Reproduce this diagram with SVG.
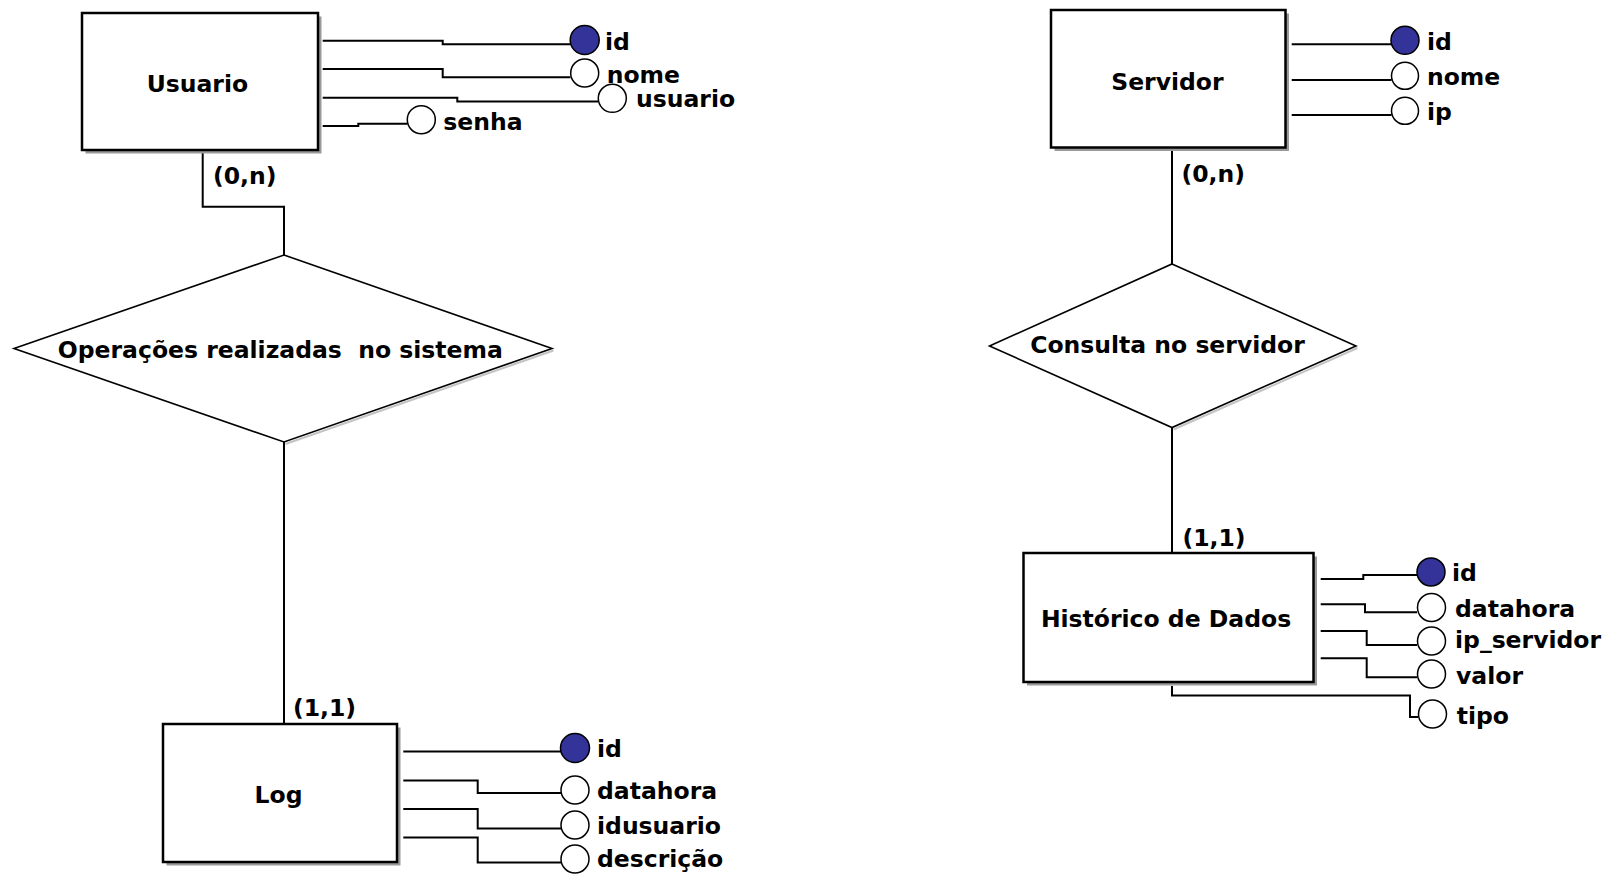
<svg xmlns="http://www.w3.org/2000/svg" width="1612" height="874" viewBox="0 0 1612 874">
<style>
  .ent { fill: #ffffff; stroke: #000000; stroke-width: 2.5; }
  .shadow { fill: #9a9a9a; }
  .rel { fill: #ffffff; stroke: #000000; stroke-width: 1.6; }
  .rshadow { fill: none; stroke: #c4c4c4; stroke-width: 2; }
  .ln { fill: none; stroke: #000000; stroke-width: 2; }
  .pk { fill: #33339a; stroke: #000000; stroke-width: 1.5; }
  .at { fill: #ffffff; stroke: #000000; stroke-width: 1.5; }
  text { font-family: "DejaVu Sans", "Liberation Sans", sans-serif; font-weight: bold; font-size: 23.5px; fill: #000000; white-space: pre; }
  .c { text-anchor: middle; }
</style>
<rect width="1612" height="874" fill="#ffffff"/>

<g id="connectors">
  <!-- relationships -->
  <polyline class="ln" points="202.7,151 202.7,206.7 284,206.7 284,255"/>
  <line class="ln" x1="284" y1="442" x2="284" y2="724"/>
  <line class="ln" x1="1172" y1="149" x2="1172" y2="264"/>
  <line class="ln" x1="1172" y1="427.5" x2="1172" y2="553"/>
  <!-- Usuario attributes -->
  <polyline class="ln" points="322.7,40.7 442.7,40.7 442.7,44.3 570.5,44.3"/>
  <polyline class="ln" points="322.7,69 442.7,69 442.7,77.3 570.5,77.3"/>
  <polyline class="ln" points="322.7,97.7 457.3,97.7 457.3,101.5 598.3,101.5"/>
  <polyline class="ln" points="322.7,126 358.3,126 358.3,123.7 407.3,123.7"/>
  <!-- Servidor attributes -->
  <line class="ln" x1="1291.7" y1="44.3" x2="1391.5" y2="44.3"/>
  <line class="ln" x1="1291.7" y1="80" x2="1391.5" y2="80"/>
  <line class="ln" x1="1291.7" y1="115" x2="1391.5" y2="115"/>
  <!-- Log attributes -->
  <line class="ln" x1="403.3" y1="751.5" x2="561" y2="751.5"/>
  <polyline class="ln" points="403.3,780.5 477.7,780.5 477.7,793 561,793"/>
  <polyline class="ln" points="403.3,809 477.7,809 477.7,828.5 561,828.5"/>
  <polyline class="ln" points="403.3,837.5 477.7,837.5 477.7,862.5 561,862.5"/>
  <!-- Historico attributes -->
  <polyline class="ln" points="1320.7,579 1363.3,579 1363.3,575 1417,575"/>
  <polyline class="ln" points="1320.7,604.3 1365,604.3 1365,612.3 1417,612.3"/>
  <polyline class="ln" points="1320.7,631 1366.7,631 1366.7,645 1417,645"/>
  <polyline class="ln" points="1320.7,658.3 1366.7,658.3 1366.7,677.3 1417,677.3"/>
  <polyline class="ln" points="1172,686 1172,695.5 1410,695.5 1410,717 1418,717"/>
</g>

<g id="usuario">
  <rect class="shadow" x="85.5" y="16.5" width="236" height="137"/>
  <rect class="ent" x="82" y="13" width="236" height="137"/>
  <text class="c" x="197.4" y="92">Usuario</text>
</g>
<g id="servidor">
  <rect class="shadow" x="1054.5" y="13.5" width="234.5" height="137.5"/>
  <rect class="ent" x="1051" y="10" width="234.5" height="137.5"/>
  <text class="c" x="1167.4" y="89.5">Servidor</text>
</g>
<g id="log">
  <rect class="shadow" x="166.5" y="727.5" width="234" height="138"/>
  <rect class="ent" x="163" y="724" width="234" height="138"/>
  <text class="c" x="278.6" y="803">Log</text>
</g>
<g id="historico">
  <rect class="shadow" x="1027" y="556.5" width="290" height="129"/>
  <rect class="ent" x="1023.5" y="553" width="290" height="129"/>
  <text class="c" x="1166" y="627">Histórico de Dados</text>
</g>

<g id="rel-operacoes">
  <polyline class="rshadow" points="553.5,350.5 285.5,444"/>
  <polygon class="rel" points="284,255 552,348.5 284,442 14,348.5"/>
  <text class="c" x="280.3" y="358" xml:space="preserve">Operações realizadas  no sistema</text>
</g>
<g id="rel-consulta">
  <polyline class="rshadow" points="1357.5,348 1173.5,429.5"/>
  <polygon class="rel" points="1172,264 1356,346 1172,427.5 989.5,346"/>
  <text class="c" x="1167.5" y="353.3">Consulta no servidor</text>
</g>

<g id="card-usuario"><text x="213" y="184">(0,n)</text></g>
<g id="card-log"><text x="293" y="716">(1,1)</text></g>
<g id="card-servidor"><text x="1181.5" y="182">(0,n)</text></g>
<g id="card-historico"><text x="1182.5" y="546">(1,1)</text></g>

<g id="attr-usuario-id"><circle class="pk" cx="584.7" cy="40" r="14.5"/><text x="605" y="50">id</text></g>
<g id="attr-usuario-nome"><circle class="at" cx="584.7" cy="73" r="14"/><text x="606.7" y="83">nome</text></g>
<g id="attr-usuario-usuario"><circle class="at" cx="612.3" cy="98.3" r="14"/><text x="636" y="107">usuario</text></g>
<g id="attr-usuario-senha"><circle class="at" cx="421.3" cy="119.7" r="14"/><text x="443.3" y="130">senha</text></g>

<g id="attr-servidor-id"><circle class="pk" cx="1405" cy="40.3" r="14"/><text x="1427" y="49.5">id</text></g>
<g id="attr-servidor-nome"><circle class="at" cx="1405" cy="75.8" r="13.5"/><text x="1427" y="85">nome</text></g>
<g id="attr-servidor-ip"><circle class="at" cx="1405" cy="110.8" r="13.5"/><text x="1427" y="120">ip</text></g>

<g id="attr-log-id"><circle class="pk" cx="575" cy="748" r="14.5"/><text x="597" y="757">id</text></g>
<g id="attr-log-datahora"><circle class="at" cx="575" cy="790" r="14"/><text x="597" y="799">datahora</text></g>
<g id="attr-log-idusuario"><circle class="at" cx="575" cy="825" r="14"/><text x="597" y="834">idusuario</text></g>
<g id="attr-log-descricao"><circle class="at" cx="575" cy="859" r="14"/><text x="597" y="867">descrição</text></g>

<g id="attr-hist-id"><circle class="pk" cx="1431" cy="572" r="14"/><text x="1452" y="581">id</text></g>
<g id="attr-hist-datahora"><circle class="at" cx="1431.5" cy="607.5" r="14"/><text x="1455" y="617">datahora</text></g>
<g id="attr-hist-ip"><circle class="at" cx="1431.5" cy="641" r="14"/><text x="1455" y="647.5">ip_servidor</text></g>
<g id="attr-hist-valor"><circle class="at" cx="1431.5" cy="674" r="14"/><text x="1456" y="684">valor</text></g>
<g id="attr-hist-tipo"><circle class="at" cx="1432.5" cy="714" r="14"/><text x="1456.7" y="724">tipo</text></g>
</svg>
